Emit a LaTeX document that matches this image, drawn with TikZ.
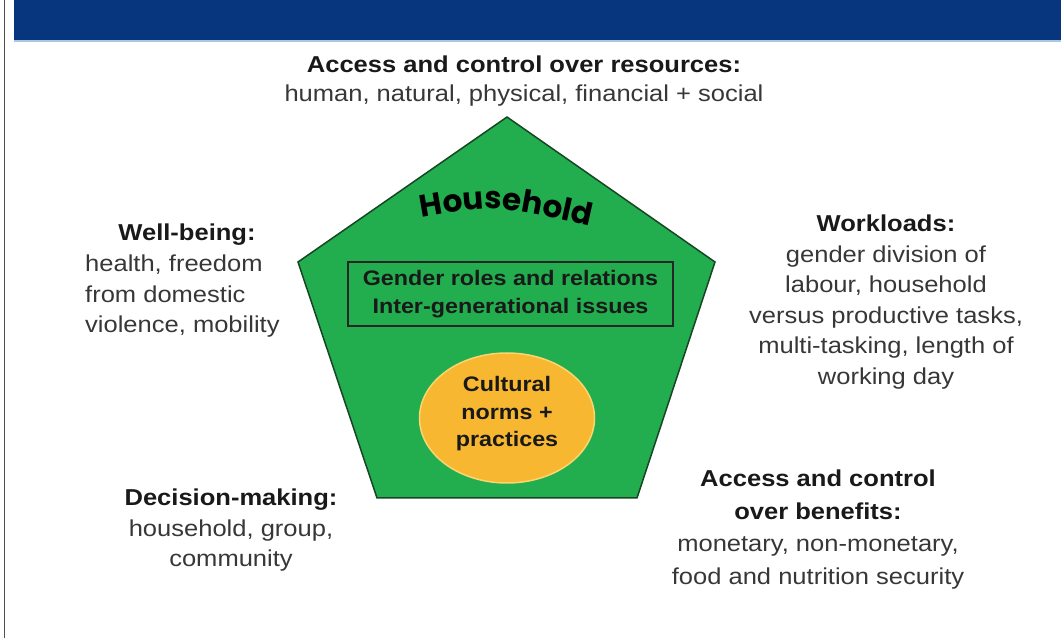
\documentclass[tikz,border=0pt]{standalone}
\usepackage{fontspec}
\setmainfont{Liberation Sans}[FakeStretch=1.11]
\newfontfamily\housefont{Poppins}
\usetikzlibrary{shapes.geometric,decorations.text}

\definecolor{bannerblue}{RGB}{8,54,126}
\definecolor{bannerline}{RGB}{172,199,224}
\definecolor{framegray}{RGB}{80,80,80}
\definecolor{hhgreen}{RGB}{34,173,78}
\definecolor{hhedge}{RGB}{22,70,36}
\definecolor{normorange}{RGB}{247,183,49}
\definecolor{normedge}{RGB}{250,214,110}
\definecolor{titleblack}{RGB}{25,25,25}
\definecolor{bodygray}{RGB}{55,55,55}

\tikzset{
  areatext/.style={anchor=north, inner sep=0, align=center, text=bodygray,
    font=\fontsize{23}{30.5}\selectfont},
  innertext/.style={align=center, inner sep=0, text=titleblack,
    font=\bfseries\fontsize{21}{28}\selectfont}
}
\newcommand{\hd}[1]{\textcolor{titleblack}{\textbf{#1}}}

\begin{document}
\begin{tikzpicture}[x=1pt, y=1pt]
  \useasboundingbox (0,0) rectangle (1061,638);
  % banner and frame
  \fill[bannerblue] (14,598) rectangle (1061,638);
  \fill[bannerline] (14,595.5) rectangle (1061,598);
  \draw[framegray, line width=1.5] (4.5,0) -- (4.5,638);

  % household pentagon
  \draw[fill=hhgreen, draw=hhedge, line width=1.5]
    (507,521) -- (715,376) -- (637,140) -- (377,140) -- (298,376) -- cycle;
  \path[decorate, decoration={text along path, text align=center,
      text={|\housefont\bfseries\fontsize{31}{31}\selectfont\color{black}|Household}}]
    (413,419) .. controls (494,433.5) .. (599,410);
  \node[innertext, draw=black!85, line width=1.3, minimum width=325, minimum height=64]
    (roles) at (510.5,344) {Gender roles and relations\\Inter-generational issues};
  \node[ellipse, fill=normorange, draw=normedge, line width=1.5,
    minimum width=175, minimum height=130] (norms) at (507,220) {};
  \node[innertext, font=\bfseries\fontsize{21}{27.5}\selectfont]
    (normstext) at (507,224) {Cultural\\norms +\\practices};

  % surrounding areas
  \node[areatext, font=\fontsize{23}{29}\selectfont] (resources) at (524,582)
    {\hd{Access and control over resources:}\\human, natural, physical, financial + social};
  \node[areatext, text=titleblack, font=\bfseries\fontsize{23}{30}\selectfont] (wellbeing) at (187,414) {Well-being:};
  \node[areatext, anchor=north west, align=left] (wellbody) at (85,383)
    {health, freedom\\from domestic\\violence, mobility};
  \node[areatext] (workloads) at (886,423)
    {\hd{Workloads:}\\gender division of\\labour, household\\versus productive tasks,\\multi-tasking, length of\\working day};
  \node[areatext] (decision) at (231,149)
    {\hd{Decision-making:}\\household, group,\\community};
  \node[areatext, font=\fontsize{23}{32.5}\selectfont] (benefits) at (818,168)
    {\hd{Access and control}\\\hd{over benefits:}\\monetary, non-monetary,\\food and nutrition security};
\end{tikzpicture}
\end{document}
